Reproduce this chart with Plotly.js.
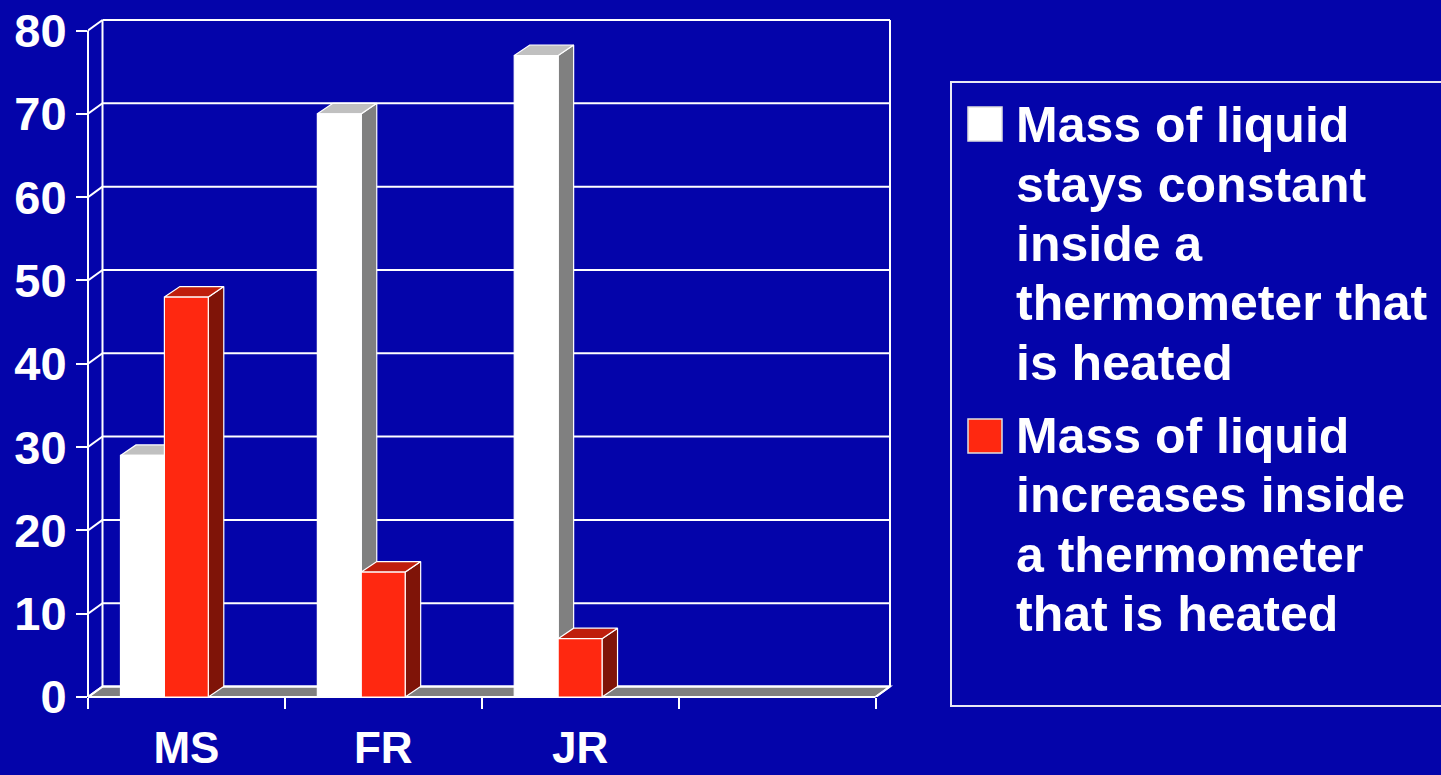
<!DOCTYPE html>
<html>
<head>
<meta charset="utf-8">
<script src="https://cdn.plot.ly/plotly-3.0.1.min.js"></script>
<style>
  html, body { margin: 0; padding: 0; background: #0404AA; }
  #chart { width: 1441px; height: 775px; }
</style>
</head>
<body>
<div id="chart"></div>
<script>
// ---------------- data ----------------
const categories = ['MS', 'FR', 'JR'];
const constantMass = [29, 70, 77];     // white series
const increasesMass = [48, 15, 7];     // red series
const seriesLines = [
  ['Mass of liquid', 'stays constant', 'inside a', 'thermometer that', 'is heated'],
  ['Mass of liquid', 'increases inside', 'a thermometer', 'that is heated']
];
const yTicks = [0, 10, 20, 30, 40, 50, 60, 70, 80];

// ---------------- layout geometry ----------------
const W = 1441, H = 775;
const M = { l: 88, r: 548, t: 17, b: 78 };
const plotW = W - M.l - M.r, plotH = H - M.t - M.b;
const nSlots = categories.length + 1;          // one empty slot on the right
const yMax = yTicks[yTicks.length - 1];
const depth = { x: 14.5, y: 10.5 }, pad = 3;
const pxCat = (plotW - depth.x - pad) / nSlots;
const pxUnit = (plotH - depth.y - pad) / yMax;
const dxu = depth.x / pxCat, dyu = depth.y / pxUnit;
const bdxu = 15.5 / pxCat, bdyu = 10.5 / pxUnit;
const xRange = [-0.5, nSlots - 0.5 + (depth.x + pad) / pxCat];
const yRange = [0, yMax + (depth.y + pad) / pxUnit];
const px2x = px => (px - M.l) / plotW;
const px2y = py => (H - M.b - py) / plotH;

const BG = '#0404AA';
const WHITE = '#FFFFFF';
const FONT = 'Liberation Sans, Arial, Helvetica, sans-serif';

const series = [
  { values: constantMass, offset: -0.335, front: '#FFFFFF', side: '#808080', top: '#C0C0C0', edge: '#FFFFFF' },
  { values: increasesMass, offset: -0.112, front: '#FF2810', side: '#7F1408', top: '#BF1E0C', edge: '#FFFFFF' }
];
const barW = 0.223;

// ---------------- traces ----------------
const traces = [];
series.forEach((s, k) => {
  const sx = [], sy = [], tx = [], ty = [];
  s.values.forEach((v, i) => {
    const x0 = i + s.offset, x1 = x0 + barW;
    sx.push(x1, x1 + bdxu, x1 + bdxu, x1, x1, null);
    sy.push(0, bdyu, v + bdyu, v, 0, null);
    tx.push(x0, x1, x1 + bdxu, x0 + bdxu, x0, null);
    ty.push(v, v, v + bdyu, v + bdyu, v, null);
  });
  traces.push({
    type: 'scatter', mode: 'lines', x: sx, y: sy, fill: 'toself',
    fillcolor: s.side, line: { color: s.edge, width: 1.2 },
    hoverinfo: 'skip', showlegend: false, zorder: 2 * k
  });
  traces.push({
    type: 'scatter', mode: 'lines', x: tx, y: ty, fill: 'toself',
    fillcolor: s.top, line: { color: s.edge, width: 1.2 },
    hoverinfo: 'skip', showlegend: false, zorder: 2 * k
  });
  traces.push({
    type: 'bar', name: seriesLines[k].join(' '),
    x: categories.map((c, i) => i), y: s.values,
    offset: s.offset, width: barW,
    marker: { color: s.front, line: { color: s.edge, width: 1.2 } },
    showlegend: false, zorder: 2 * k + 1,
    hovertemplate: '%{y}<extra></extra>'
  });
});

// ---------------- shapes (walls, grid, floor, legend) ----------------
const shapes = [];
const gridLine = { color: WHITE, width: 2 };
// floor
shapes.push({
  type: 'path', xref: 'x', yref: 'y', layer: 'below',
  path: `M${-0.5},0 L${nSlots - 0.5},0 L${nSlots - 0.5 + dxu},${dyu} L${-0.5 + dxu},${dyu} Z`,
  fillcolor: '#808080', line: gridLine
});
// front floor edge (not clipped)
shapes.push({ type: 'line', xref: 'x', yref: 'paper', x0: -0.5, x1: nSlots - 0.5, y0: 0, y1: 0, line: gridLine, layer: 'below' });
// back wall grid lines + left wall diagonals
yTicks.forEach(v => {
  shapes.push({ type: 'line', xref: 'x', yref: 'y', x0: -0.5 + dxu, x1: nSlots - 0.5 + dxu, y0: v + dyu, y1: v + dyu, line: gridLine, layer: 'below' });
  shapes.push({ type: 'line', xref: 'x', yref: 'y', x0: -0.5, x1: -0.5 + dxu, y0: v, y1: v + dyu, line: gridLine, layer: 'below' });
});
// back wall verticals
shapes.push({ type: 'line', xref: 'x', yref: 'y', x0: -0.5 + dxu, x1: -0.5 + dxu, y0: dyu, y1: yMax + dyu, line: gridLine, layer: 'below' });
shapes.push({ type: 'line', xref: 'x', yref: 'y', x0: nSlots - 0.5 + dxu, x1: nSlots - 0.5 + dxu, y0: dyu, y1: yMax + dyu, line: gridLine, layer: 'below' });
// front-left vertical axis line
shapes.push({ type: 'line', xref: 'paper', yref: 'y', x0: 0, x1: 0, y0: 0, y1: yMax, line: gridLine, layer: 'below' });
// floor right edge
shapes.push({ type: 'line', xref: 'x', yref: 'y', x0: nSlots - 0.5, x1: nSlots - 0.5 + dxu, y0: 0, y1: dyu, line: gridLine, layer: 'below' });

// legend box
shapes.push({ type: 'rect', xref: 'paper', yref: 'paper', x0: px2x(951), x1: px2x(1452), y0: px2y(706), y1: px2y(82), line: { color: '#E8E8F4', width: 2 }, fillcolor: 'rgba(0,0,0,0)' });
// legend swatches
const swatchTops = [107, 419];
const lineTops = [[125, 184.5, 244, 303.5, 363], [436, 495.5, 555, 614]];
swatchTops.forEach((t, k) => {
  shapes.push({ type: 'rect', xref: 'paper', yref: 'paper', x0: px2x(968), x1: px2x(1002), y0: px2y(t + 34), y1: px2y(t), fillcolor: series[k].front, line: { color: '#E0E0E0', width: 1.5 } });
});

// legend text lines
const annotations = [];
seriesLines.forEach((lines, k) => {
  lines.forEach((txt, j) => {
    annotations.push({
      xref: 'paper', yref: 'paper', x: px2x(1014), y: px2y(lineTops[k][j]),
      xanchor: 'left', yanchor: 'middle', showarrow: false, text: txt,
      font: { family: FONT, size: 50, color: WHITE, weight: 'bold' }
    });
  });
});

const layout = {
  width: W, height: H,
  margin: M,
  paper_bgcolor: BG, plot_bgcolor: BG,
  barmode: 'overlay',
  showlegend: false,
  xaxis: {
    type: 'linear', range: xRange, fixedrange: true,
    tickmode: 'array', tickvals: categories.map((c, i) => i), ticktext: categories,
    ticks: '', showgrid: false, zeroline: false, showline: false,
    tickfont: { family: FONT, size: 44, color: WHITE, weight: 'bold' },
    ticklabelstandoff: 21,
    minor: {
      tickmode: 'array', tickvals: Array.from({ length: nSlots + 1 }, (_, i) => i - 0.5),
      ticks: 'outside', ticklen: 11, tickwidth: 2, tickcolor: WHITE, showgrid: false
    }
  },
  yaxis: {
    type: 'linear', range: yRange, fixedrange: true,
    tickmode: 'array', tickvals: yTicks,
    ticks: 'outside', ticklen: 11, tickwidth: 2, tickcolor: WHITE,
    showgrid: false, zeroline: false, showline: false,
    tickfont: { family: FONT, size: 47, color: WHITE, weight: 'bold' },
    ticklabelstandoff: 0
  },
  shapes: shapes,
  annotations: annotations
};

Plotly.newPlot('chart', traces, layout, { displayModeBar: false, staticPlot: true });
</script>
</body>
</html>
